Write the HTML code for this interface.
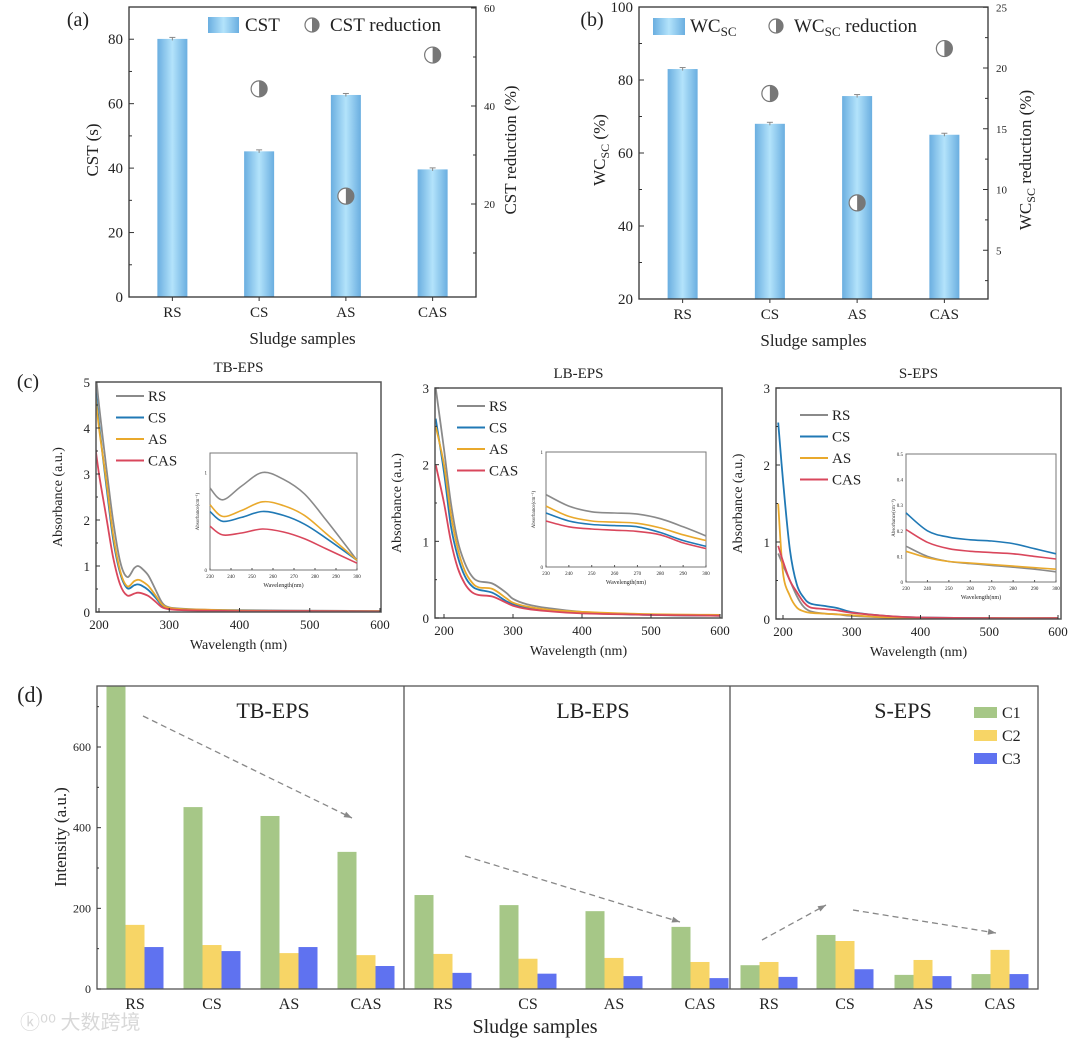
<!DOCTYPE html>
<html><head><meta charset="utf-8"><style>
html,body{margin:0;padding:0;background:#fff;}
svg{display:block;font-family:"Liberation Serif","Noto Serif CJK SC",serif;}
</style></head><body>
<svg id="fig" width="1080" height="1040" viewBox="0 0 1080 1040" xmlns="http://www.w3.org/2000/svg">
<defs>
<linearGradient id="barGrad" x1="0" x2="1" y1="0" y2="0">
<stop offset="0" stop-color="#6aaee0"/><stop offset="0.5" stop-color="#b3e3fb"/><stop offset="1" stop-color="#6aaee0"/>
</linearGradient>
<clipPath id="clipTB"><rect x="96" y="382" width="285" height="230"/></clipPath>
<clipPath id="clipLB"><rect x="435" y="388" width="287" height="230"/></clipPath>
<clipPath id="clipS"><rect x="776" y="388" width="285" height="231"/></clipPath>
<clipPath id="clipD"><rect x="97" y="686" width="941" height="303"/></clipPath>
</defs>
</svg>
<script>
// ---------- data ----------
const samples = ["RS","CS","AS","CAS"];
const cstValues = [80.1, 45.2, 62.7, 39.6];
const cstReduction = [null, 43.5, 21.6, 50.4];
const wcValues = [83.0, 68.0, 75.6, 65.0];
const wcReduction = [null, 17.9, 8.9, 21.6];
const cstTicks = [0,20,40,60,80];
const cstRedTicks = [20,40,60];
const wcTicks = [20,40,60,80,100];
const wcRedTicks = [5,10,15,20,25];

const seriesNames = ["RS","CS","AS","CAS"];
const tbWl = [193,200,210,220,230,240,250,255,260,270,280,290,300,320,350,400,500,600];
const tbRS = [5.6,4.5,3.2,2.0,1.1,0.76,0.95,1.0,0.96,0.8,0.5,0.2,0.1,0.07,0.05,0.04,0.03,0.02];
const tbCS = [5.2,4.1,2.8,1.6,0.85,0.52,0.58,0.6,0.58,0.48,0.32,0.14,0.08,0.06,0.04,0.03,0.02,0.02];
const tbAS = [5.0,4.0,2.9,1.7,0.9,0.56,0.67,0.7,0.68,0.57,0.37,0.16,0.09,0.06,0.05,0.03,0.02,0.02];
const tbCAS = [3.8,3.0,2.1,1.2,0.6,0.36,0.4,0.42,0.41,0.35,0.23,0.1,0.06,0.04,0.03,0.02,0.02,0.01];
const tbInWl = [230,236,245,255,265,275,285,300];
const tbInRS = [0.84,0.72,0.86,1.0,0.93,0.78,0.52,0.1];
const tbInCS = [0.6,0.5,0.54,0.6,0.56,0.47,0.33,0.1];
const tbInAS = [0.67,0.55,0.61,0.7,0.66,0.56,0.38,0.1];
const tbInCAS = [0.45,0.36,0.38,0.42,0.39,0.32,0.22,0.07];

const lbWl = [188,200,210,220,230,240,250,270,290,300,320,350,400,500,600];
const lbRS = [3.0,2.2,1.5,1.0,0.72,0.55,0.48,0.45,0.33,0.25,0.18,0.13,0.08,0.04,0.03];
const lbCS = [2.6,1.9,1.2,0.8,0.55,0.42,0.37,0.33,0.22,0.18,0.13,0.1,0.07,0.04,0.03];
const lbAS = [2.5,2.0,1.35,0.9,0.62,0.47,0.4,0.38,0.26,0.2,0.15,0.11,0.08,0.05,0.04];
const lbCAS = [2.0,1.5,1.0,0.65,0.45,0.34,0.3,0.28,0.2,0.16,0.12,0.09,0.06,0.04,0.03];
const lbInWl = [230,240,250,260,270,280,290,300];
const lbInRS = [0.63,0.53,0.48,0.47,0.46,0.42,0.35,0.27];
const lbInCS = [0.47,0.4,0.37,0.36,0.35,0.3,0.23,0.18];
const lbInAS = [0.53,0.44,0.4,0.39,0.38,0.34,0.28,0.23];
const lbInCAS = [0.4,0.35,0.33,0.32,0.31,0.28,0.21,0.16];

const sWl = [193,200,210,220,230,240,260,280,300,350,400,500,600];
const sRS = [0.85,0.7,0.5,0.3,0.16,0.1,0.07,0.06,0.04,0.02,0.01,0.01,0.01];
const sCS = [2.55,1.8,0.9,0.45,0.28,0.2,0.17,0.14,0.09,0.04,0.02,0.01,0.01];
const sAS = [1.5,0.6,0.3,0.15,0.1,0.08,0.07,0.06,0.05,0.02,0.01,0.01,0.01];
const sCAS = [0.95,0.75,0.5,0.35,0.22,0.15,0.13,0.11,0.08,0.04,0.02,0.01,0.01];
const sInWl = [230,240,250,260,270,280,290,300];
const sInRS = [0.14,0.1,0.08,0.072,0.065,0.058,0.05,0.04];
const sInCS = [0.27,0.2,0.175,0.165,0.16,0.15,0.13,0.11];
const sInAS = [0.12,0.095,0.08,0.074,0.068,0.062,0.056,0.05];
const sInCAS = [0.205,0.155,0.13,0.12,0.115,0.11,0.1,0.09];

const fracGroups = ["TB-EPS","LB-EPS","S-EPS"];
const compNames = ["C1","C2","C3"];
const tbC1 = [750,451,429,340], tbC2 = [159,109,89,84], tbC3 = [104,94,104,57];
const lbC1 = [233,208,193,154], lbC2 = [87,75,77,67], lbC3 = [40,38,32,27];
const sC1 = [59,134,35,37], sC2 = [67,119,72,97], sC3 = [30,49,32,37];
const intensityTicks = [0,200,400,600];

// ---------- helpers ----------
const svg = document.getElementById('fig');
const NS = 'http://www.w3.org/2000/svg';
function mk(tag, attrs, parent){
  const e = document.createElementNS(NS, tag);
  for (const k in attrs) e.setAttribute(k, attrs[k]);
  (parent||svg).appendChild(e);
  return e;
}
function txt(x,y,s,size,anchor,parent,extra){
  const t = mk('text',Object.assign({x:x,y:y,'font-size':size,'text-anchor':anchor||'middle',fill:'#222'},extra||{}),parent);
  t.textContent = s;
  return t;
}
function lin(d0,d1,r0,r1){ return v => r0 + (v-d0)*(r1-r0)/(d1-d0); }
function smoothPath(pts){
  let d = 'M'+pts[0][0].toFixed(1)+','+pts[0][1].toFixed(1);
  for (let i=0;i<pts.length-1;i++){
    const p0=pts[Math.max(0,i-1)], p1=pts[i], p2=pts[i+1], p3=pts[Math.min(pts.length-1,i+2)];
    const c1=[p1[0]+(p2[0]-p0[0])/6, p1[1]+(p2[1]-p0[1])/6];
    const c2=[p2[0]-(p3[0]-p1[0])/6, p2[1]-(p3[1]-p1[1])/6];
    d += ' C'+c1[0].toFixed(1)+','+c1[1].toFixed(1)+' '+c2[0].toFixed(1)+','+c2[1].toFixed(1)+' '+p2[0].toFixed(1)+','+p2[1].toFixed(1);
  }
  return d;
}
const lineColors = ['#8a8a8a','#2079b5','#e9a92c','#d9475c'];

// ---------- panels (a) (b) ----------
function barPanel(cfg){
  const g = mk('g',{});
  
  
  const L=cfg.L,R=cfg.R,T=cfg.T,B=cfg.B;
  const y = lin(cfg.yMin,cfg.yMax,B,T);
  const yr = lin(0,1,cfg.r0,cfg.r0-cfg.rScale);
  const xs = samples.map((s,i)=>L+(i+0.5)*(R-L)/4);
  cfg.values.forEach((v,i)=>{
    const b = mk('rect',{x:xs[i]-15,y:y(v),width:30,height:B-y(v),fill:'url(#barGrad)'},g);
    
    
    mk('line',{x1:xs[i]-3,x2:xs[i]+3,y1:y(v)-1.5,y2:y(v)-1.5,stroke:'#888','stroke-width':1},g);
    mk('line',{x1:xs[i],x2:xs[i],y1:y(v)-1.5,y2:y(v)+1.5,stroke:'#888','stroke-width':1},g);
  });
  cfg.red.forEach((v,i)=>{
    if (v==null) return;
    const cy = yr(v);
    const m = mk('g',{},g);
    
    
    mk('circle',{cx:xs[i],cy:cy,r:8,fill:'#fff',stroke:'#777','stroke-width':1.2},m);
    mk('path',{d:`M${xs[i]},${cy-8} A8,8 0 0 1 ${xs[i]},${cy+8} Z`,fill:'#777'},m);
  });
  mk('rect',{x:L,y:T,width:R-L,height:B-T,fill:'none',stroke:'#333','stroke-width':1.3},g);
  cfg.ticks.forEach(v=>{
    mk('line',{x1:L,x2:L+5,y1:y(v),y2:y(v),stroke:'#333'},g);
    txt(L-6,y(v)+5,String(v),15,'end',g);
  });
  for (let v=cfg.yMin+cfg.minor; v<cfg.yMax; v+=cfg.ticks[1]-cfg.ticks[0]) mk('line',{x1:L,x2:L+3,y1:y(v),y2:y(v),stroke:'#333'},g);
  cfg.rTicks.forEach(v=>{
    mk('line',{x1:R-5,x2:R,y1:yr(v),y2:yr(v),stroke:'#333'},g);
    txt(R+8,yr(v)+4,String(v),11,'start',g);
  });
  cfg.rMinor.forEach(v=> mk('line',{x1:R-3,x2:R,y1:yr(v),y2:yr(v),stroke:'#333'},g));
  xs.forEach((x,i)=>{ mk('line',{x1:x,x2:x,y1:B,y2:B+4,stroke:'#333'},g); txt(x,B+20,samples[i],15,'middle',g); });
  const xt = txt((L+R)/2,B+47,'Sludge samples',17,'middle',g);
   
  return {g,xs};
}
const pa = barPanel({name:'panel-a',L:129,R:476,T:7,B:297,yMin:0,yMax:90,values:cstValues,red:cstReduction,r0:302,rScale:4.9,ticks:cstTicks,minor:10,rTicks:cstRedTicks,rMinor:[10,30,50]});
let t;
t = txt(98,150,'CST (s)',17,'middle',pa.g,{transform:'rotate(-90 98 150)'});
 
t = txt(516,150,'CST reduction (%)',17,'middle',pa.g,{transform:'rotate(-90 516 150)'});
 
txt(78,26,'(a)',20,'middle',pa.g);
mk('rect',{x:208,y:17,width:31,height:16,fill:'url(#barGrad)'},pa.g);
txt(245,31,'CST',19,'start',pa.g);
mk('circle',{cx:312,cy:25,r:7,fill:'#fff',stroke:'#777','stroke-width':1.2},pa.g);
mk('path',{d:'M312,18 A7,7 0 0 1 312,32 Z',fill:'#777'},pa.g);
txt(330,31,'CST reduction',19,'start',pa.g);

const pb = barPanel({name:'panel-b',L:639,R:988,T:7,B:299,yMin:20,yMax:100,values:wcValues,red:wcReduction,r0:311,rScale:12.15,ticks:wcTicks,minor:10,rTicks:wcRedTicks,rMinor:[2.5,7.5,12.5,17.5,22.5]});
t = mk('text',{x:0,y:0,'font-size':17,'text-anchor':'middle',fill:'#222',transform:'translate(605 150) rotate(-90)'},pb.g);
t.innerHTML = 'WC<tspan font-size="12" dy="4">SC</tspan><tspan dy="-4"> (%)</tspan>';
 
t = mk('text',{x:0,y:0,'font-size':17,'text-anchor':'middle',fill:'#222',transform:'translate(1031 160) rotate(-90)'},pb.g);
t.innerHTML = 'WC<tspan font-size="12" dy="4">SC</tspan><tspan dy="-4">  reduction (%)</tspan>';
 
txt(592,26,'(b)',20,'middle',pb.g);
mk('rect',{x:653,y:18,width:32,height:17,fill:'url(#barGrad)'},pb.g);
t = mk('text',{x:690,y:32,'font-size':19,fill:'#222'},pb.g); t.innerHTML='WC<tspan font-size="13" dy="4">SC</tspan>';
mk('circle',{cx:776,cy:26,r:7,fill:'#fff',stroke:'#777','stroke-width':1.2},pb.g);
mk('path',{d:'M776,19 A7,7 0 0 1 776,33 Z',fill:'#777'},pb.g);
t = mk('text',{x:794,y:32,'font-size':19,fill:'#222'},pb.g); t.innerHTML='WC<tspan font-size="13" dy="4">SC</tspan><tspan dy="-4"> reduction</tspan>';

// ---------- panel (c) ----------
function specPanel(cfg){
  const g = mk('g',{});
  
  
  const x = lin(200,600,cfg.x200,cfg.x600);
  const y = lin(0,cfg.yMax,cfg.B,cfg.T);
  const cg = mk('g',{'clip-path':'url(#'+cfg.clip+')'},g);
  cfg.series.forEach((s,k)=>{
    const p = mk('path',{d:smoothPath(cfg.wl.map((w,i)=>[x(w),y(s[i])])),fill:'none',stroke:lineColors[k],'stroke-width':1.8},cg);
    
    
  });
  mk('rect',{x:cfg.L,y:cfg.T,width:cfg.R-cfg.L,height:cfg.B-cfg.T,fill:'none',stroke:'#555','stroke-width':1.5},g);
  for (let v=0; v<=cfg.yMax; v++){ mk('line',{x1:cfg.L,x2:cfg.L+4,y1:y(v),y2:y(v),stroke:'#333'},g); txt(cfg.L-6,y(v)+5,String(v),13,'end',g); }
  for (let v=0.5; v<cfg.yMax; v++) mk('line',{x1:cfg.L,x2:cfg.L+2,y1:y(v),y2:y(v),stroke:'#333'},g);
  [200,300,400,500,600].forEach(w=>{ mk('line',{x1:x(w),x2:x(w),y1:cfg.B,y2:cfg.B-4,stroke:'#333'},g); txt(x(w),cfg.B+17,String(w),13,'middle',g); });
  txt((cfg.L+cfg.R)/2,cfg.B+37,'Wavelength (nm)',14,'middle',g);
  txt(cfg.L-34,(cfg.T+cfg.B)/2,'Absorbance (a.u.)',14,'middle',g,{transform:`rotate(-90 ${cfg.L-34} ${(cfg.T+cfg.B)/2})`});
  txt((cfg.L+cfg.R)/2,cfg.T-10,cfg.title,15,'middle',g);
  seriesNames.forEach((n,k)=>{
    const ly = cfg.legY + k*21.5;
    mk('line',{x1:cfg.legX,x2:cfg.legX+28,y1:ly,y2:ly,stroke:lineColors[k],'stroke-width':2},g);
    txt(cfg.legX+32,ly+5,n,15,'start',g);
  });
  const I = cfg.inset;
  const ix = lin(230,300,I.L,I.R), iy = lin(0,I.yMax,I.B,I.T);
  const ig = mk('g',{},g);
  
  
  mk('rect',{x:I.L,y:I.T,width:I.R-I.L,height:I.B-I.T,fill:'#fff',stroke:'#777','stroke-width':1},ig);
  I.series.forEach((s,k)=>{
    const p = mk('path',{d:smoothPath(I.wl.map((w,i)=>[ix(w),iy(s[i])])),fill:'none',stroke:lineColors[k],'stroke-width':1.6},ig);
    
    
  });
  for (let w=230; w<=300; w+=10){ mk('line',{x1:ix(w),x2:ix(w),y1:I.B,y2:I.B-2,stroke:'#555'},ig); txt(ix(w),I.B+8,String(w),5,'middle',ig); }
  I.ticks.forEach(v=>txt(I.L-3,iy(v)+2,String(v),5,'end',ig));
  txt((I.L+I.R)/2,I.B+17,'Wavelength(nm)',6,'middle',ig);
  txt(I.L-11,(I.T+I.B)/2,'Absorbance(cm⁻¹)',5,'middle',ig,{transform:`rotate(-90 ${I.L-11} ${(I.T+I.B)/2})`});
}
specPanel({name:'panel-c-tb-eps',title:'TB-EPS',L:96,R:381,T:382,B:612,x200:99,x600:380,yMax:5,clip:'clipTB',wl:tbWl,series:[tbRS,tbCS,tbAS,tbCAS],legX:116,legY:396,
  inset:{L:210,R:357,T:453,B:570,yMax:1.2,ticks:[0,1],wl:tbInWl,series:[tbInRS,tbInCS,tbInAS,tbInCAS]}});
specPanel({name:'panel-c-lb-eps',title:'LB-EPS',L:435,R:722,T:388,B:618,x200:444,x600:720,yMax:3,clip:'clipLB',wl:lbWl,series:[lbRS,lbCS,lbAS,lbCAS],legX:457,legY:406,
  inset:{L:546,R:706,T:452,B:567,yMax:1,ticks:[0,1],wl:lbInWl,series:[lbInRS,lbInCS,lbInAS,lbInCAS]}});
specPanel({name:'panel-c-s-eps',title:'S-EPS',L:776,R:1061,T:388,B:619,x200:783,x600:1058,yMax:3,clip:'clipS',wl:sWl,series:[sRS,sCS,sAS,sCAS],legX:800,legY:415,
  inset:{L:906,R:1056,T:454,B:582,yMax:0.5,ticks:[0,0.1,0.2,0.3,0.4,0.5],wl:sInWl,series:[sInRS,sInCS,sInAS,sInCAS]}});
txt(28,388,'(c)',20,'middle');

// ---------- panel (d) ----------
const pd = mk('g',{});


const dL=97,dR=1038,dT=686,dB=989;
const yD = lin(0,750,dB,dT+0.5);
const groupCenters = [[135,212,289,366],[443,528,614,700],[769,845,923,1000]];
const titleX = [273,593,903];
const compColors = ['#a6c787','#f7d566','#5f72f0'];
const fracData = [[tbC1,tbC2,tbC3],[lbC1,lbC2,lbC3],[sC1,sC2,sC3]];
const dBars = mk('g',{'clip-path':'url(#clipD)'},pd);
fracData.forEach((comps,si)=>{
  samples.forEach((s,j)=>{
    const cx = groupCenters[si][j];
    comps.forEach((arr,c)=>{
      const v = arr[j];
      const r = mk('rect',{x:cx-28.5+c*19,y:yD(v),width:19,height:dB-yD(v),fill:compColors[c]},dBars);
      
      
    });
    txt(cx,dB+20,s,16,'middle',pd);
  });
  txt(titleX[si],718,fracGroups[si],22,'middle',pd);
});
mk('rect',{x:dL,y:dT,width:dR-dL,height:dB-dT,fill:'none',stroke:'#555','stroke-width':1.3},pd);
mk('line',{x1:404,x2:404,y1:dT,y2:dB,stroke:'#555','stroke-width':1.3},pd);
mk('line',{x1:730,x2:730,y1:dT,y2:dB,stroke:'#555','stroke-width':1.3},pd);
intensityTicks.forEach(v=>{ mk('line',{x1:dL,x2:dL+4,y1:yD(v),y2:yD(v),stroke:'#333'},pd); txt(dL-6,yD(v)+4,String(v),12,'end',pd); });
[100,300,500,700].forEach(v=>mk('line',{x1:dL,x2:dL+2,y1:yD(v),y2:yD(v),stroke:'#333'},pd));
txt(66,837,'Intensity (a.u.)',17,'middle',pd,{transform:'rotate(-90 66 837)'});
t = txt(535,1033,'Sludge samples',20,'middle',pd);
 
txt(30,702,'(d)',22,'middle',pd);
[[143,716,352,818],[465,856,680,922],[762,940,826,905],[853,910,996,933]].forEach(a=>{
  mk('line',{x1:a[0],y1:a[1],x2:a[2],y2:a[3],stroke:'#888','stroke-width':1.3,'stroke-dasharray':'6,4'},pd);
  const ang=Math.atan2(a[3]-a[1],a[2]-a[0]);
  const p=(d,o)=>[a[2]-8*Math.cos(ang)+o*Math.sin(ang), a[3]-8*Math.sin(ang)-o*Math.cos(ang)];
  const p1=p(0,3),p2=p(0,-3);
  mk('path',{d:`M${a[2]},${a[3]} L${p1[0]},${p1[1]} L${p2[0]},${p2[1]} Z`,fill:'#888'},pd);
});
compNames.forEach((n,c)=>{
  const lg = mk('g',{},pd);
  
  
  mk('rect',{x:974,y:707+c*23,width:23,height:11,fill:compColors[c]},lg);
  txt(1002,718+c*23,n,16,'start',lg);
});
txt(20,1029,'ⓚ⁰⁰ 大数跨境',20,'start',svg,{fill:'#d8d8d8','font-family':'"Noto Sans CJK SC",sans-serif'});
</script>
</body></html>
